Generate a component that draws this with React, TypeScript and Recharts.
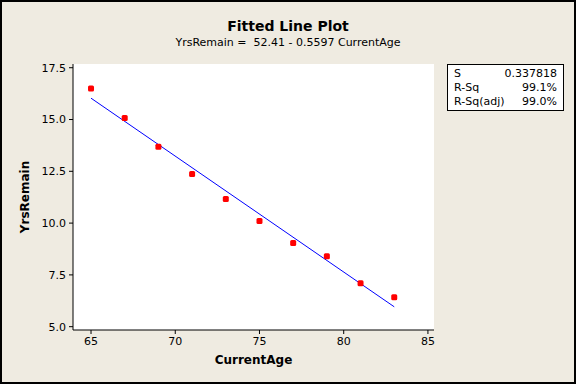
import React from 'react';
import { ScatterChart, Scatter, XAxis, YAxis, CartesianGrid } from 'recharts';

const currentAge = [65, 67, 69, 71, 73, 75, 77, 79, 81, 83];
const yrsRemain = [16.5, 15.07, 13.68, 12.37, 11.16, 10.1, 9.04, 8.4, 7.1, 6.42];
const fitAge = [65, 83];
const fitYrs = [16.03, 5.96];
const xTicks = [65, 70, 75, 80, 85];
const yTicks = [5, 7.5, 10, 12.5, 15, 17.5];
const statLabels = ['S', 'R-Sq', 'R-Sq(adj)'];
const statValues = ['0.337818', '99.1%', '99.0%'];

const points = currentAge.map((x, i) => ({ x, y: yrsRemain[i] }));
const fitLine = fitAge.map((x, i) => ({ x, y: fitYrs[i] }));

const FONT = "Tahoma, 'DejaVu Sans', sans-serif";
const xDomain = [63.93, 85.36];
const yDomain = [4.84, 17.68];

const Dot = (props: any) => {
  const { cx, cy } = props;
  return <rect x={cx - 3} y={cy - 3} width={6} height={6} rx={1.5} fill="#ff0000" />;
};

const YLabel = (props: any) => {
  const { x, y, height } = props.viewBox;
  const cx = x + 12;
  const cy = y + height / 2;
  return (
    <text x={cx} y={cy} transform={`rotate(-90 ${cx} ${cy})`} textAnchor="middle" dominantBaseline="central"
      fontFamily={FONT} fontSize={12} fontWeight="bold" fill="#000">YrsRemain</text>
  );
};

const XLabel = (props: any) => {
  const { x, y, width } = props.viewBox;
  return (
    <text x={x + width / 2} y={y + 30} textAnchor="middle" dominantBaseline="central"
      fontFamily={FONT} fontSize={12} fontWeight="bold" fill="#000">CurrentAge</text>
  );
};

const App = () => {
  const tick = { fill: '#000', fontSize: 11, fontFamily: FONT };
  return (
    <div style={{ position: 'absolute', left: 0, top: 0, width: 576, height: 384, background: '#efebe1', fontFamily: FONT }}>
      <ScatterChart width={576} height={384} margin={{ top: 64, right: 142, bottom: 24, left: 13 }}>
        <CartesianGrid horizontal={false} vertical={false} fill="#fff" />
        <XAxis dataKey="x" type="number" domain={xDomain} ticks={xTicks} allowDataOverflow
          height={30} tickSize={4} tickMargin={3} tick={tick}
          stroke="#000" label={<XLabel />} />
        <YAxis dataKey="y" type="number" domain={yDomain} ticks={yTicks} allowDataOverflow
          width={60} tickSize={4} tickMargin={3} tick={tick}
          tickFormatter={(v: number) => v.toFixed(1)} stroke="#000" label={<YLabel />} />
        <XAxis xAxisId="top" orientation="top" type="number" domain={xDomain} allowDataOverflow
          height={0} tick={false} tickLine={false} stroke="#000" />
        <YAxis yAxisId="right" orientation="right" type="number" domain={yDomain} allowDataOverflow
          width={0} tick={false} tickLine={false} stroke="#000" />
        <Scatter data={fitLine} line={{ stroke: '#0000ff', strokeWidth: 1 }} shape={() => <g />} isAnimationActive={false} />
        <Scatter data={points} shape={<Dot />} isAnimationActive={false} />
      </ScatterChart>
      <div style={{ position: 'absolute', left: 0, top: 18, width: 576, textAlign: 'center', fontSize: 14, fontWeight: 'bold' }}>Fitted Line Plot</div>
      <div style={{ position: 'absolute', left: 0, top: 36, width: 576, textAlign: 'center', fontSize: 11 }}>YrsRemain =&nbsp; 52.41 - 0.5597 CurrentAge</div>
      <div style={{ position: 'absolute', left: 447, top: 64, width: 117, height: 47, background: '#fff', border: '1px solid #000', fontSize: 11, padding: '2px 6px', boxSizing: 'border-box' }}>
        {statLabels.map((l, i) => (
          <div key={l} style={{ display: 'flex', justifyContent: 'space-between', height: 14, lineHeight: '14px' }}>
            <span>{l}</span><span>{statValues[i]}</span>
          </div>
        ))}
      </div>
      <div style={{ position: 'absolute', left: 0, top: 0, width: 576, height: 384, border: '2px solid #000', boxSizing: 'border-box', pointerEvents: 'none' }} />
    </div>
  );
};

export default App;
